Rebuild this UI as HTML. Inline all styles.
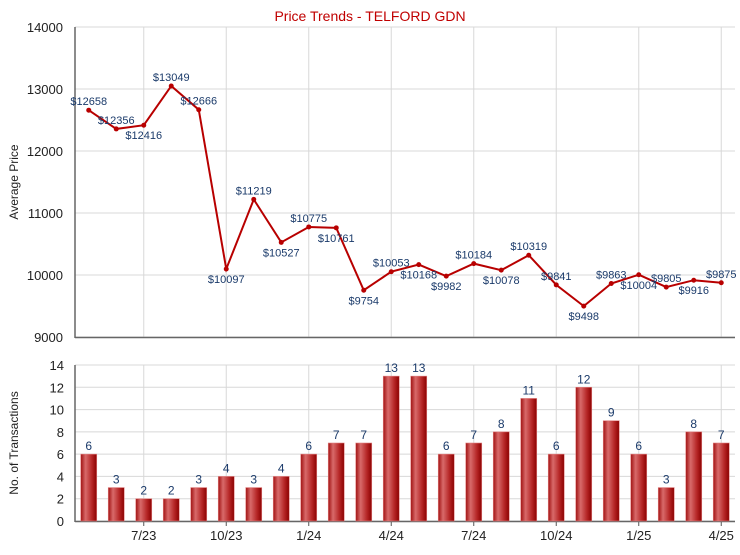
<!DOCTYPE html>
<html><head><meta charset="utf-8"><style>
body{margin:0;background:#fff;}
svg text{font-family:"Liberation Sans",Arial,sans-serif;}
</style></head><body>
<svg id="c" width="740" height="550" xmlns="http://www.w3.org/2000/svg">
<defs>
<linearGradient id="bg" x1="0" x2="1" y1="0" y2="0">
<stop offset="0" stop-color="#a01010"/><stop offset="0.3" stop-color="#d86a6a"/><stop offset="0.7" stop-color="#b52525"/><stop offset="1" stop-color="#8a0000"/>
</linearGradient>
</defs>
<text x="370" y="21" text-anchor="middle" font-size="14" fill="#c00000">Price Trends - TELFORD GDN</text>
<text transform="translate(18,182) rotate(-90)" text-anchor="middle" font-size="12" fill="#222">Average Price</text>
<text transform="translate(18,443) rotate(-90)" text-anchor="middle" font-size="12" fill="#222">No. of Transactions</text>
<g id="g"></g>
</svg>
<script>
const categories=["5/23","6/23","7/23","8/23","9/23","10/23","11/23","12/23","1/24","2/24","3/24","4/24","5/24","6/24","7/24","8/24","9/24","10/24","11/24","12/24","1/25","2/25","3/25","4/25"];
const prices=[12658,12356,12416,13049,12666,10097,11219,10527,10775,10761,9754,10053,10168,9982,10184,10078,10319,9841,9498,9863,10004,9805,9916,9875];
const counts=[6,3,2,2,3,4,3,4,6,7,7,13,13,6,7,8,11,6,12,9,6,3,8,7];
const priceTicks=[9000,10000,11000,12000,13000,14000];
const countTicks=[0,2,4,6,8,10,12,14];
const labelBelow=[0,0,1,0,0,1,0,1,0,1,1,0,1,1,0,1,0,0,1,0,1,0,1,0];
const xTickIdx=[2,5,8,11,14,17,20,23];

const L=75,R=735,n=categories.length,step=(R-L)/n;
const X=i=>L+step*(i+0.5);
const Yp=v=>337-(v-9000)/5000*310;
const Yc=v=>521-v/14*156;
const g=document.getElementById('g');
const NS="http://www.w3.org/2000/svg";
function mk(t,a,p){const e=document.createElementNS(NS,t);for(const k in a)e.setAttribute(k,a[k]);(p||g).appendChild(e);return e;}

// gridlines
priceTicks.forEach(t=>{
  const l=mk('line',{x1:L,x2:R,y1:Yp(t),y2:Yp(t),stroke:'#d8d8d8'});
  
  
  const tx=mk('text',{x:L-12,y:Yp(t)+5,'text-anchor':'end','font-size':13,fill:'#222'});tx.textContent=t;
  
  
});
countTicks.forEach(t=>{
  const l=mk('line',{x1:L,x2:R,y1:Yc(t),y2:Yc(t),stroke:'#d8d8d8'});
  
  
  const tx=mk('text',{x:L-11,y:Yc(t)+5,'text-anchor':'end','font-size':13,fill:'#222'});tx.textContent=t;
  
  
});
xTickIdx.forEach(i=>{
  const x=X(i);
  const a=mk('line',{x1:x,x2:x,y1:27,y2:337,stroke:'#d8d8d8'});
  
  
  const b=mk('line',{x1:x,x2:x,y1:365,y2:521,stroke:'#d8d8d8'});
  
  
  mk('line',{x1:x,x2:x,y1:521,y2:526,stroke:'#555'});
  const tx=mk('text',{x:x,y:540,'text-anchor':'middle','font-size':13,fill:'#222'});tx.textContent=categories[i];
  
  
});
// axes
[[L,27,L,338],[L,337.5,R,337.5],[L,365,L,522],[L,521.5,R,521.5]].forEach(a=>{
  const l=mk('line',{x1:a[0],y1:a[1],x2:a[2],y2:a[3],stroke:'#666','stroke-width':1.5});
  
  
});
// bars
counts.forEach((v,i)=>{
  const r=mk('rect',{x:X(i)-8,y:Yc(v),width:16,height:Yc(0)-Yc(v),fill:'url(#bg)',stroke:'#e08080','stroke-width':0.6});
  
  
  const t=mk('text',{x:X(i),y:Yc(v)-4,'text-anchor':'middle','font-size':12,fill:'#1a3a6a'});t.textContent=v;
  
  
});
// line
const pl=mk('polyline',{points:prices.map((v,i)=>X(i)+','+Yp(v)).join(' '),fill:'none',stroke:'#b80000','stroke-width':2});


prices.forEach((v,i)=>{
  const c=mk('circle',{cx:X(i),cy:Yp(v),r:2.5,fill:'#b80000'});
  
  
  const t=mk('text',{x:X(i),y:labelBelow[i]?Yp(v)+14:Yp(v)-5,'text-anchor':'middle','font-size':11,fill:'#1a3a6a'});t.textContent='$'+v;
  
  
});
</script>
</body></html>
